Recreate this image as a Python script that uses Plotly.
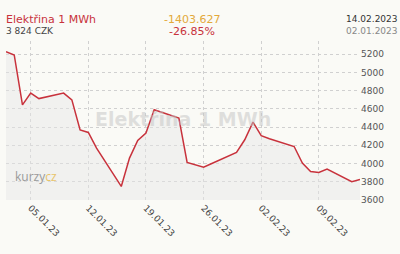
import plotly.graph_objects as go

dates = ["2023-01-02","2023-01-03","2023-01-04","2023-01-05","2023-01-06",
         "2023-01-09","2023-01-10","2023-01-11","2023-01-12","2023-01-13",
         "2023-01-16","2023-01-17","2023-01-18","2023-01-19","2023-01-20",
         "2023-01-23","2023-01-24","2023-01-25","2023-01-26","2023-01-27",
         "2023-01-30","2023-01-31","2023-02-01","2023-02-02","2023-02-03",
         "2023-02-06","2023-02-07","2023-02-08","2023-02-09","2023-02-10",
         "2023-02-13","2023-02-14"]
prices = [5227.6, 5192, 4644, 4773, 4713,
          4773, 4699, 4370, 4341, 4170,
          3749, 4060, 4253, 4334, 4590,
          4499, 4012, 3987, 3961, 4000,
          4122, 4261, 4455, 4305, 4272,
          4187, 4005, 3913, 3902, 3940,
          3800, 3824]
tick_dates = ["2023-01-05","2023-01-12","2023-01-19","2023-01-26","2023-02-02","2023-02-09"]
y_ticks = [3600, 3800, 4000, 4200, 4400, 4600, 4800, 5000, 5200]

title = "Elektřina 1 MWh"
last_price = "3 824 CZK"
change_abs = "-1403.627"
change_pct = "-26.85%"
date_end = "14.02.2023"
date_start = "02.01.2023"

fig = go.Figure()
fig.add_trace(go.Scatter(
    x=dates, y=prices, mode="lines",
    line=dict(color="#c8323c", width=1.5),
    fill="tozeroy", fillcolor="rgba(230,230,230,0.45)",
    hoverinfo="skip", showlegend=False))

font = "DejaVu Sans"
fig.update_layout(
    width=400, height=254,
    margin=dict(l=6, r=40, t=41, b=54),
    paper_bgcolor="#fafaf6", plot_bgcolor="#fafaf6",
    font=dict(family=font, size=9, color="#555"),
    xaxis=dict(type="date", range=[dates[0], dates[-1]],
               tickvals=tick_dates, tickformat="%d.%m.%y", tickangle=45,
               showgrid=True, gridcolor="#d0d0d0", griddash="dot", gridwidth=1,
               zeroline=False, showline=False, ticks="",
               tickfont=dict(family=font, size=9, color="#444")),
    yaxis=dict(range=[3600, 5345], side="right", tickvals=y_ticks,
               showgrid=True, gridcolor="#d0d0d0", griddash="dot", gridwidth=1,
               zeroline=False, showline=False, ticks="",
               tickfont=dict(family=font, size=9, color="#555")),
)

ann = [
    dict(text=title, x=4, y=19, xanchor="left", font=dict(size=11, color="#c8323c")),
    dict(text=last_price, x=4, y=31, xanchor="left", font=dict(size=9, color="#444")),
    dict(text=change_abs, x=192, y=19, xanchor="center", font=dict(size=11, color="#e3a93a")),
    dict(text=change_pct, x=192, y=31, xanchor="center", font=dict(size=11, color="#c8323c")),
    dict(text=date_end, x=400, y=19, xanchor="right", font=dict(size=9, color="#333")),
    dict(text=date_start, x=400, y=31, xanchor="right", font=dict(size=9, color="#888")),
]
for a in ann:
    fig.add_annotation(text=a["text"], xref="paper", yref="paper",
                       x=(a["x"] - 6) / 354, y=(200 - a["y"]) / 159,
                       xanchor=a["xanchor"], yanchor="middle", showarrow=False,
                       font=dict(family=font, **a["font"]))

# watermark
fig.add_annotation(text="<b>" + title + "</b>", xref="paper", yref="paper",
                   x=(183 - 6) / 354, y=(200 - 119) / 159, showarrow=False,
                   xanchor="center", yanchor="middle",
                   font=dict(family=font, size=19, color="rgba(195,195,195,0.5)"))
# logo
fig.add_annotation(text="<span style='color:#9a9a9a'>kurzy</span><span style='color:#e8c46a'>cz</span>",
                   xref="paper", yref="paper", x=(13 - 6) / 354, y=(200 - 176) / 159,
                   xanchor="left", yanchor="middle", showarrow=False,
                   font=dict(family="Open Sans", size=12))

fig.write_html("out.html")
